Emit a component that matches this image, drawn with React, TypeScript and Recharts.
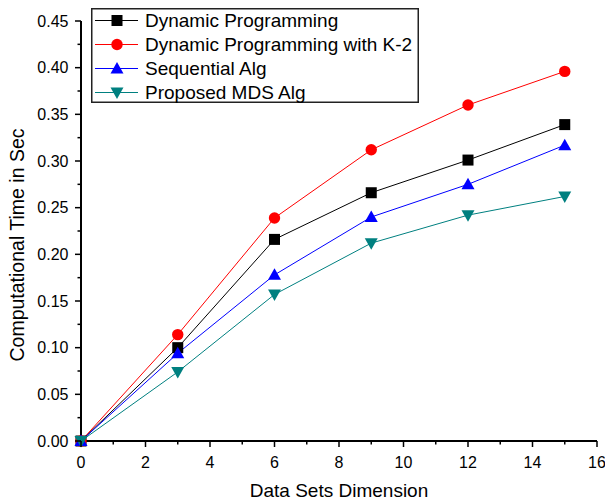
import { LineChart, Line, XAxis, YAxis, Legend } from "recharts";

// #region Data
const dims = [0, 3, 6, 9, 12, 15];
const dynamicProg = [0, 0.1, 0.216, 0.266, 0.301, 0.339];
const dynamicK2 = [0, 0.114, 0.239, 0.312, 0.36, 0.396];
const sequential = [0, 0.094, 0.178, 0.24, 0.275, 0.317];
const proposedMds = [0, 0.074, 0.157, 0.212, 0.242, 0.262];

const xTicks = [0, 1, 2, 3, 4, 5, 6, 7, 8, 9, 10, 11, 12, 13, 14, 15, 16];
const yTicks = [
  0, 0.025, 0.05, 0.075, 0.1, 0.125, 0.15, 0.175, 0.2, 0.225, 0.25, 0.275,
  0.3, 0.325, 0.35, 0.375, 0.4, 0.425, 0.45,
];
// #endregion

const data = dims.map((d, i) => ({
  dim: d,
  dp: dynamicProg[i],
  dpk2: dynamicK2[i],
  seq: sequential[i],
  mds: proposedMds[i],
}));

const series = [
  { key: "dp", name: "Dynamic Programming", color: "#000000", shape: "square" },
  { key: "dpk2", name: "Dynamic Programming with K-2", color: "#ff0000", shape: "circle" },
  { key: "seq", name: "Sequential Alg", color: "#0000ff", shape: "up" },
  { key: "mds", name: "Proposed MDS Alg", color: "#008080", shape: "down" },
];

const FONT = "'Liberation Sans', Arial, sans-serif";

const Marker = ({ shape, cx, cy, color }: any) => {
  if (cx == null || cy == null) return null;
  if (shape === "square")
    return <rect x={cx - 5.5} y={cy - 5.5} width={11} height={11} fill={color} />;
  if (shape === "circle") return <circle cx={cx} cy={cy} r={5.7} fill={color} />;
  if (shape === "up")
    return (
      <polygon
        points={`${cx},${cy - 6.5} ${cx + 6.5},${cy + 5} ${cx - 6.5},${cy + 5}`}
        fill={color}
      />
    );
  return (
    <polygon
      points={`${cx},${cy + 6.5} ${cx + 6.5},${cy - 5} ${cx - 6.5},${cy - 5}`}
      fill={color}
    />
  );
};

const XTick = ({ x, y, payload }: any) => {
  const major = payload.value % 2 === 0;
  return (
    <g>
      <line x1={x} x2={x} y1={y} y2={y + (major ? 6 : 3.5)} stroke="#000" strokeWidth={1.5} />
      {major && (
        <text x={x} y={y + 26.5} textAnchor="middle" fontSize={16} fontFamily={FONT} fill="#000">
          {payload.value}
        </text>
      )}
    </g>
  );
};

const YTick = ({ x, y, payload }: any) => {
  const major = Math.round(payload.value * 1000) % 50 === 0;
  return (
    <g>
      <line x1={x} x2={x - (major ? 6 : 3.5)} y1={y} y2={y} stroke="#000" strokeWidth={1.5} />
      {major && (
        <text x={x - 12.5} y={y} dy="0.36em" textAnchor="end" fontSize={16} fontFamily={FONT} fill="#000">
          {payload.value.toFixed(2)}
        </text>
      )}
    </g>
  );
};

const LegendBox = () => (
  <svg width={328} height={95} style={{ display: "block" }}>
    <rect x={0.75} y={0.75} width={326.5} height={93.5} fill="#fff" stroke="#222" strokeWidth={1.5} />
    {series.map((s, i) => {
      const cy = 12.5 + i * 24;
      return (
        <g key={s.key}>
          <line x1={4} x2={47} y1={cy} y2={cy} stroke={s.color} strokeWidth={1} />
          <Marker shape={s.shape} cx={26} cy={cy} color={s.color} />
          <text x={54} y={cy} dy="0.36em" fontSize={19} fontFamily={FONT} fill="#000">
            {s.name}
          </text>
        </g>
      );
    })}
  </svg>
);

const App = () => {
  return (
    <div style={{ position: "absolute", left: 0, top: 0, background: "#fff" }}>
      <LineChart
        width={605}
        height={503}
        data={data}
        margin={{ top: 21, right: 8, left: 0, bottom: 0 }}
      >
        <XAxis
          dataKey="dim"
          type="number"
          domain={[0, 16]}
          ticks={xTicks}
          interval={0}
          tickSize={0}
          tickMargin={0}
          tickLine={false}
          tick={<XTick />}
          height={62}
          axisLine={{ stroke: "#000", strokeWidth: 2 }}
          label={{
            value: "Data Sets Dimension",
            position: "insideBottom",
            offset: 6,
            fontSize: 19,
            fontFamily: FONT,
            fill: "#000",
          }}
        />
        <YAxis
          type="number"
          domain={[0, 0.45]}
          ticks={yTicks}
          interval={0}
          tickSize={0}
          tickMargin={0}
          tickLine={false}
          tick={<YTick />}
          width={81}
          axisLine={{ stroke: "#000", strokeWidth: 2 }}
          label={{
            content: ({ viewBox }: any) => {
              const cx = 17;
              const cy = viewBox.y + viewBox.height / 2 + 14;
              return (
                <text
                  x={cx}
                  y={cy}
                  transform={`rotate(-90 ${cx} ${cy})`}
                  textAnchor="middle"
                  dy="0.36em"
                  fontSize={19.5}
                  fontFamily={FONT}
                  fill="#000"
                >
                  Computational Time in Sec
                </text>
              );
            },
          }}
        />
        <Legend
          layout="vertical"
          verticalAlign="middle"
          align="center"
          content={() => <LegendBox />}
          wrapperStyle={{ position: "absolute", left: 91, top: 8, width: 328, height: 95 }}
        />
        {series.map((s) => (
          <Line
            key={s.key}
            type="linear"
            dataKey={s.key}
            name={s.name}
            stroke={s.color}
            strokeWidth={1}
            isAnimationActive={false}
            dot={(p: any) => <Marker key={`${s.key}-${p.index}`} shape={s.shape} cx={p.cx} cy={p.cy} color={s.color} />}
            activeDot={false}
          />
        ))}
      </LineChart>
    </div>
  );
};

export default App;
